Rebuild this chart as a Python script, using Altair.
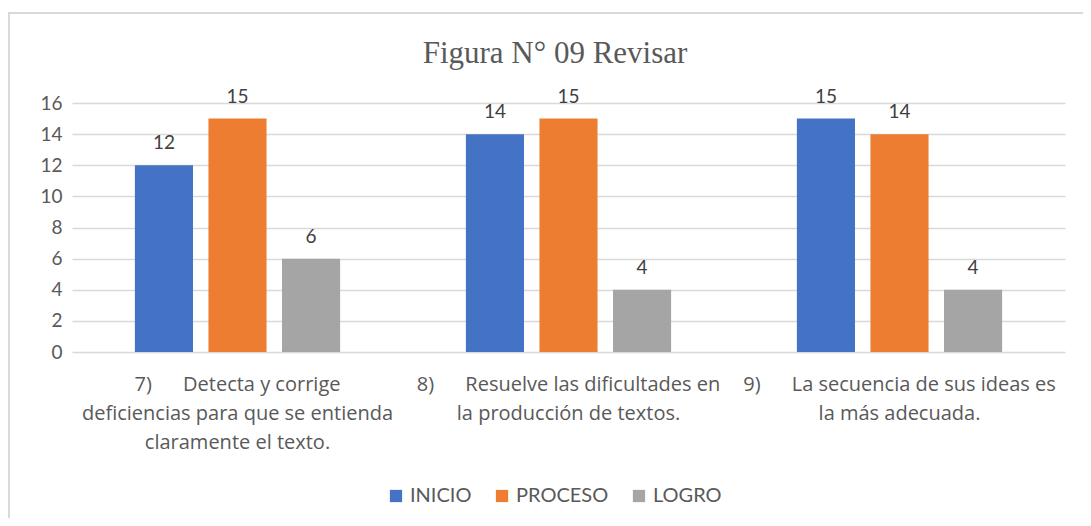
import altair as alt
import pandas as pd

NB = "\u00a0"
categories = [
    "7)" + NB * 6 + "Detecta y corrige|deficiencias para que se entienda|claramente el texto.",
    "8)" + NB * 6 + "Resuelve las dificultades en|la producción de textos.",
    "9)" + NB * 6 + "La secuencia de sus ideas es|la más adecuada.",
]
series = ["INICIO", "PROCESO", "LOGRO"]
inicio = [12, 14, 15]
proceso = [15, 15, 14]
logro = [6, 4, 4]
colors = ["#4472C4", "#ED7D31", "#A5A5A5"]
title_text = "Figura N° 09 Revisar"

rows = []
for i, c in enumerate(categories):
    for s, vals in zip(series, [inicio, proceso, logro]):
        rows.append({"cat": c, "serie": s, "valor": vals[i]})
df = pd.DataFrame(rows)

FONT = "Lato"
TXT = "#595959"

x = alt.X("cat:N", sort=categories, title=None,
          scale=alt.Scale(paddingInner=0, paddingOuter=0),
          axis=alt.Axis(labelAngle=0, labelExpr="split(datum.label, '|')",
                        labelFontSize=20, labelLineHeight=29, labelColor=TXT,
                        labelFont="Open Sans", labelPadding=22, labelBaseline="top",
                        domain=False, ticks=False, labelLimit=0))
xo = alt.XOffset("serie:N", sort=series,
                 scale=alt.Scale(paddingInner=0.21, paddingOuter=0.855))
y = alt.Y("valor:Q", title=None,
          scale=alt.Scale(domain=[0, 16], nice=False),
          axis=alt.Axis(values=list(range(0, 17, 2)), domain=False, ticks=False,
                        gridColor="#D9D9D9", gridWidth=1.5, labelFontSize=19,
                        labelColor=TXT, labelFont=FONT, labelPadding=10))
color = alt.Color("serie:N", sort=series, title=None,
                  scale=alt.Scale(domain=series, range=colors),
                  legend=alt.Legend(orient="none", legendX=314, legendY=383,
                                    direction="horizontal", symbolType="square",
                                    symbolSize=150, symbolStrokeWidth=0,
                                    labelFontSize=20, labelColor=TXT, labelFont=FONT,
                                    columnPadding=20, labelOffset=4))

base = alt.Chart(df)
bars = base.mark_bar().encode(x=x, xOffset=xo, y=y, color=color)
labels = base.mark_text(dy=-12, baseline="bottom", fontSize=19, color="#404040",
                        font=FONT).encode(x=x, xOffset=xo, y=y, text="valor:Q")

one = pd.DataFrame({"t": [title_text]})
frame = alt.Chart(one).mark_rect(
    fill=None, stroke="#D9D9D9", strokeWidth=2).encode(
    x=alt.value(-63), x2=alt.value(1040), y=alt.value(-90), y2=alt.value(440))
title = alt.Chart(one).mark_text(font="Liberation Serif", fontSize=31, color=TXT,
                                 baseline="alphabetic", align="center").encode(
    x=alt.value(483), y=alt.value(-40), text="t:N")

chart = alt.layer(frame, title, bars, labels).properties(
    width=993, height=249,
    autosize=alt.AutoSizeParams(type="none"),
    padding={"left": 64, "top": 95, "right": 18, "bottom": 166},
).configure_view(stroke=None)

chart.save("out.html", embed_options={"renderer": "svg", "actions": False})
